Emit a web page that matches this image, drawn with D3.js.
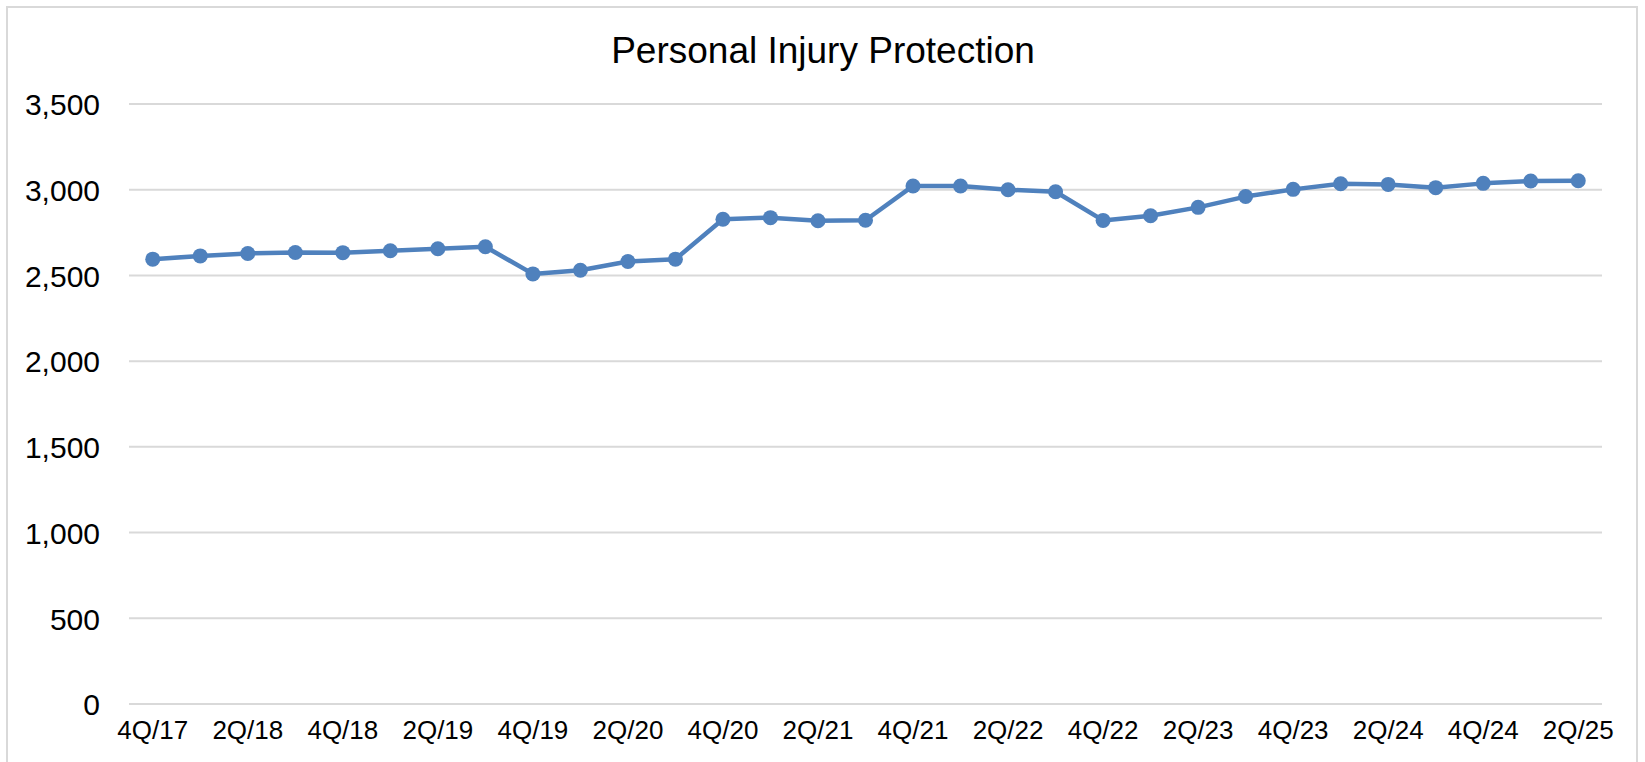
<!DOCTYPE html>
<html>
<head>
<meta charset="utf-8">
<script src="https://cdn.jsdelivr.net/npm/d3@7"></script>
<style>
  body { margin: 0; background: #fff; }
  text { font-family: "Liberation Sans", Arial, sans-serif; }
</style>
</head>
<body>
<div id="chart-area"></div>
<script>
// quarters 4Q/17 .. 2Q/25
const quarters = ['4Q/17',
  '1Q/18','2Q/18','3Q/18','4Q/18',
  '1Q/19','2Q/19','3Q/19','4Q/19',
  '1Q/20','2Q/20','3Q/20','4Q/20',
  '1Q/21','2Q/21','3Q/21','4Q/21',
  '1Q/22','2Q/22','3Q/22','4Q/22',
  '1Q/23','2Q/23','3Q/23','4Q/23',
  '1Q/24','2Q/24','3Q/24','4Q/24',
  '1Q/25','2Q/25']

const values = [2595,
  2614, 2628, 2634, 2633,
  2644, 2656, 2667, 2509,
  2530, 2581, 2595, 2828,
  2837, 2819, 2822, 3022,
  3022, 3000, 2988, 2821,
  2848, 2897, 2960, 3002,
  3035, 3031, 3012, 3037,
  3051, 3052]

const yTicks = [0, 500, 1000, 1500, 2000, 2500, 3000, 3500]

const TITLE = 'Personal Injury Protection'

const W = 1645, H = 762
const MARGIN = { LEFT: 129, RIGHT: 43, TOP: 104, BOTTOM: 58 }
const WIDTH = W - MARGIN.LEFT - MARGIN.RIGHT
const HEIGHT = H - MARGIN.TOP - MARGIN.BOTTOM

const svg = d3.select('#chart-area')
  .append('svg')
  .attr('width', W)
  .attr('height', H)

// chart border
svg.append('rect')
  .attr('x', 7).attr('y', 7)
  .attr('width', 1630).attr('height', 770)
  .attr('fill', 'none')
  .attr('stroke', '#d9d9d9')
  .attr('stroke-width', 2)

svg.append('text')
  .attr('x', 823)
  .attr('y', 63)
  .attr('text-anchor', 'middle')
  .attr('font-size', '37px')
  .attr('fill', '#000')
  .text(TITLE)

const g = svg.append('g')
  .attr('transform', `translate(${MARGIN.LEFT},${MARGIN.TOP})`)

const x = d3.scaleBand()
  .domain(quarters)
  .range([0, WIDTH])

const y = d3.scaleLinear()
  .domain([0, 3500])
  .range([HEIGHT, 0])

// gridlines
g.append('g')
  .selectAll('line')
  .data(yTicks)
  .enter().append('line')
  .attr('x1', 0)
  .attr('x2', WIDTH)
  .attr('y1', d => y(d))
  .attr('y2', d => y(d))
  .attr('stroke', '#d9d9d9')
  .attr('stroke-width', 2)

const yAxis = g.append('g')
  .call(d3.axisLeft(y).tickValues(yTicks).tickFormat(d3.format(',')).tickSize(0).tickPadding(29))
yAxis.select('.domain').remove()
yAxis.selectAll('text')
  .attr('font-size', '30px')
  .attr('fill', '#000')
  .attr('dy', '0.36em')

const xAxis = g.append('g')
  .attr('transform', `translate(0,${HEIGHT})`)
  .call(d3.axisBottom(x)
    .tickValues(quarters.filter((d, i) => i % 2 === 0))
    .tickSize(0)
    .tickPadding(17))
xAxis.select('.domain').remove()
xAxis.selectAll('text')
  .attr('font-size', '26px')
  .attr('fill', '#000')

const line = d3.line()
  .x((d, i) => x(quarters[i]) + x.bandwidth() / 2)
  .y(d => y(d))

g.append('path')
  .datum(values)
  .attr('d', line)
  .attr('fill', 'none')
  .attr('stroke', '#4f81bd')
  .attr('stroke-width', 4.5)
  .attr('stroke-linejoin', 'round')

g.selectAll('circle')
  .data(values)
  .enter().append('circle')
  .attr('cx', (d, i) => x(quarters[i]) + x.bandwidth() / 2)
  .attr('cy', d => y(d))
  .attr('r', 7.5)
  .attr('fill', '#4f81bd')
</script>
</body>
</html>
